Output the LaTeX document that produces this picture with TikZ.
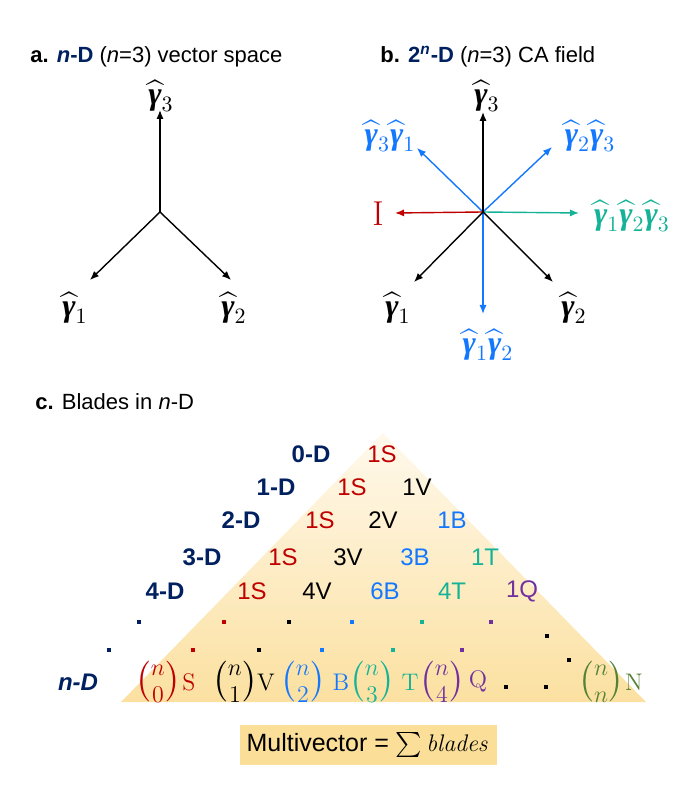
\documentclass[tikz,border=0pt]{standalone}
\usepackage{amsmath,amssymb}
\usepackage[no-math]{fontspec}
\setmainfont{Liberation Sans}
\newfontfamily\gfont{Liberation Serif}
\usetikzlibrary{arrows.meta}
\definecolor{navy}{RGB}{0,32,96}
\definecolor{bred}{RGB}{192,0,0}
\definecolor{bblue}{RGB}{20,120,255}
\definecolor{bteal}{RGB}{20,178,150}
\definecolor{bpurple}{RGB}{112,48,160}
\definecolor{bgreen}{RGB}{84,130,53}
\definecolor{trilight}{RGB}{255,249,236}
\definecolor{tridark}{RGB}{251,224,160}
\definecolor{boxfill}{RGB}{251,223,152}
\newcommand{\gam}[1]{\widehat{\mbox{\gfont\bfseries\itshape γ}}_{#1}}
\newcommand{\bnm}[1]{$\tbinom{n}{#1}$}

\begin{document}
\begin{tikzpicture}[x=0.5pt,y=-0.5pt,
  vec/.style={-{Latex[length=4.5pt,width=3.6pt]}, line width=0.7pt},
  ttl/.style={anchor=west, font=\fontsize{11}{13}\selectfont, inner sep=0pt},
  gam/.style={font=\fontsize{16}{18}\selectfont, inner sep=1pt},
  dimlbl/.style={font=\fontsize{12}{14}\selectfont\bfseries, navy},
  cnt/.style={font=\fontsize{12}{14}\selectfont},
  bnmlbl/.style={font=\fontsize{17}{19}\selectfont, inner sep=0pt},
  blet/.style={font=\fontsize{13}{15}\selectfont, inner sep=0pt},
  pdot/.style={rectangle, inner sep=0pt, minimum size=1.9pt}]
\useasboundingbox (0,0) rectangle (679,795);

% a. vector space
\node[ttl] (ta) at (30,57) {\textbf{a.} \textcolor{navy}{\textbf{\textit{n}-D}} (\textit{n}=3) vector space};
\coordinate (oa) at (160,212);
\coordinate (a3) at (160,110);
\coordinate (a1) at (90,280);
\coordinate (a2) at (231,280);
\draw[vec] (oa) -- (a3);
\draw[vec] (oa) -- (a1);
\draw[vec] (oa) -- (a2);
\node[gam] (la3) at (161,96) {$\gam{3}$};
\node[gam] (la1) at (75,308) {$\gam{1}$};
\node[gam] (la2) at (234,308) {$\gam{2}$};

% b. CA field
\node[ttl] (tb) at (380,57) {\textbf{b.} \textcolor{navy}{\textbf{2\textsuperscript{\textit{n}}-D}} (\textit{n}=3) CA field};
\coordinate (ob) at (483,212);
\coordinate (b3) at (483,112);
\coordinate (b31) at (417,148);
\coordinate (b23) at (552,147);
\coordinate (bI) at (395,213);
\coordinate (b123) at (579,213);
\coordinate (b1) at (414,282);
\coordinate (b2) at (553,282);
\coordinate (b12) at (483,314);
\draw[vec, bblue] (ob) -- (b31);
\draw[vec, bblue] (ob) -- (b23);
\draw[vec, bblue] (ob) -- (b12);
\draw[vec, bred] (ob) -- (bI);
\draw[vec, bteal] (ob) -- (b123);
\draw[vec] (ob) -- (b3);
\draw[vec] (ob) -- (b1);
\draw[vec] (ob) -- (b2);
\node[gam] (lb3) at (487,96) {$\gam{3}$};
\node[gam, bblue] (lb31) at (390,136) {$\gam{3}\gam{1}$};
\node[gam, bblue] (lb23) at (590,136) {$\gam{2}\gam{3}$};
\node[gam, bred] (lbI) at (378,214) {$\mathrm{I}$};
\node[gam, bteal] (lb123) at (632,216) {$\gam{1}\gam{2}\gam{3}$};
\node[gam] (lb1) at (398,308) {$\gam{1}$};
\node[gam] (lb2) at (574,308) {$\gam{2}$};
\node[gam, bblue] (lb12) at (488,345) {$\gam{1}\gam{2}$};

% c. blades
\node[ttl] (tc) at (35,402) {\textbf{c.} Blades in \textit{n}-D};
\shade[top color=trilight, bottom color=tridark] (383,433) -- (646,702) -- (121,702) -- cycle;

\node[dimlbl] (d0) at (311,454) {0-D};
\node[cnt, bred] (s0) at (382,454) {1S};

\node[dimlbl] (d1) at (276,487) {1-D};
\node[cnt, bred] (s1) at (352,487) {1S};
\node[cnt] (v1) at (417,487) {1V};

\node[dimlbl] (d2) at (241,520) {2-D};
\node[cnt, bred] (s2) at (320,520) {1S};
\node[cnt] (v2) at (383,520) {2V};
\node[cnt, bblue] (b2) at (452,520) {1B};

\node[dimlbl] (d3) at (202,557) {3-D};
\node[cnt, bred] (s3) at (283,557) {1S};
\node[cnt] (v3) at (348,557) {3V};
\node[cnt, bblue] (b3) at (415,557) {3B};
\node[cnt, bteal] (t3) at (485,557) {1T};

\node[dimlbl] (d4) at (165,591) {4-D};
\node[cnt, bred] (s4) at (252,591) {1S};
\node[cnt] (v4) at (317,591) {4V};
\node[cnt, bblue] (b4) at (385,591) {6B};
\node[cnt, bteal] (t4) at (452,591) {4T};
\node[cnt, bpurple] (q4) at (522,591) {1Q};

% dots
\foreach \x/\c in {139/navy,224/bred,289/black,352/bblue,422/bteal,491/bpurple}
  \node[pdot, fill=\c] at (\x,622) {};
\foreach \x/\c in {109/navy,193/bred,259/black,322/bblue,393/bteal,462/bpurple}
  \node[pdot, fill=\c] at (\x,650) {};
\node[pdot, fill=black] at (547,636) {};
\node[pdot, fill=black] at (569,660) {};

% n-D row
\node[dimlbl, font=\fontsize{12}{14}\selectfont\bfseries\itshape] (dn) at (78,682) {n-D};
\node[bnmlbl, bred] (c0) at (158,682) {\bnm{0}};
\node[blet, bred] (l0) at (189,682) {$\mathrm{S}$};
\node[bnmlbl] (c1) at (235,682) {\bnm{1}};
\node[blet] (l1) at (266,682) {$\mathrm{V}$};
\node[bnmlbl, bblue] (c2) at (303,682) {\bnm{2}};
\node[blet, bblue] (l2) at (341,682) {$\mathrm{B}$};
\node[bnmlbl, bteal] (c3) at (372,682) {\bnm{3}};
\node[blet, bteal] (l3) at (410,682) {$\mathrm{T}$};
\node[bnmlbl, bpurple] (c4) at (442,682) {\bnm{4}};
\node[blet, bpurple] (l4) at (478,682) {$\mathrm{Q}$};
\node[pdot, fill=black] at (506,687) {};
\node[pdot, fill=black] at (546,687) {};
\node[bnmlbl, bgreen] (cn) at (601,682) {\bnm{n}};
\node[blet, bgreen] (ln) at (634,682) {$\mathrm{N}$};

\node[fill=boxfill, minimum width=128.5pt, minimum height=20pt, font=\fontsize{12.5}{15}\selectfont] (mv) at (368,745) {Multivector = $\sum \mathit{blades}$};
\end{tikzpicture}
\end{document}
